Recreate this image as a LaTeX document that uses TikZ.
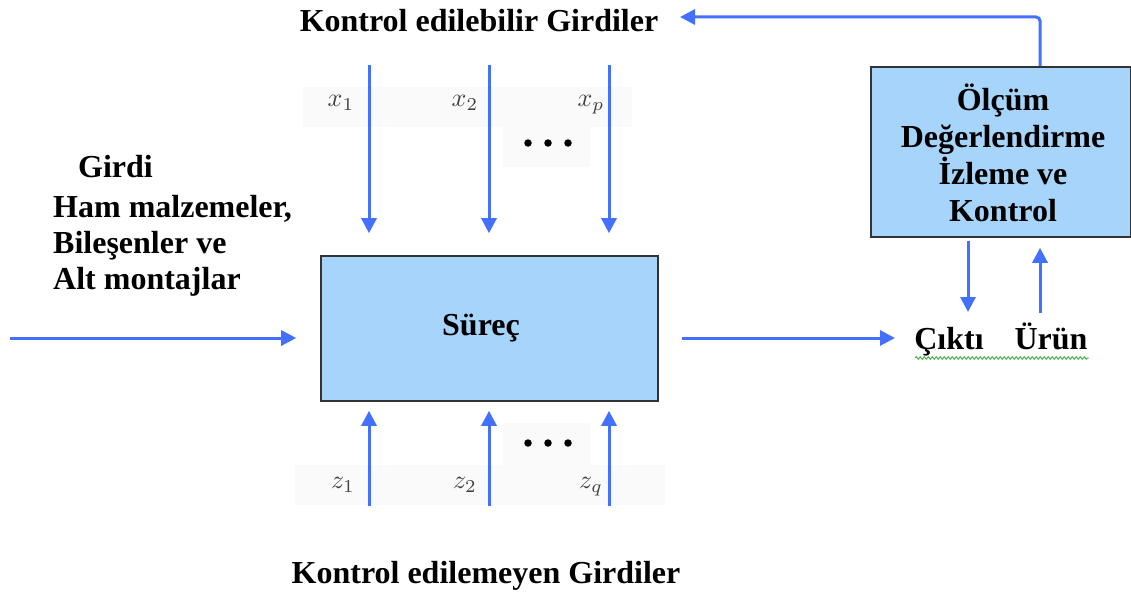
\documentclass[tikz,border=0pt]{standalone}
\usepackage{graphicx}
\usepackage{fontspec}
\setmainfont{Liberation Serif}
\usetikzlibrary{arrows.meta,decorations.pathmorphing}
\definecolor{arrblue}{RGB}{68,112,255}
\definecolor{boxblue}{RGB}{166,212,250}
\definecolor{faint}{RGB}{250,250,250}
\definecolor{squig}{RGB}{60,170,60}
\newcommand{\bigmath}[1]{\scalebox{2.6}{$#1$}}
\tikzset{
  arr/.style={draw=arrblue, line width=3pt, -{Triangle[width=15pt,length=15pt]}},
  lbl/.style={font=\fontsize{32}{37}\selectfont\bfseries, inner sep=0pt, anchor=base},
  lblw/.style={lbl, anchor=base west},
  bluebox/.style={draw=black!80, line width=1.6pt, fill=boxblue, inner sep=0pt},
  mlbl/.style={text=black!75, inner sep=0pt},
  band/.style={fill=faint, draw=none},
  dot/.style={fill=black, draw=none, circle, minimum size=7.5pt, inner sep=0pt}
}
\begin{document}
\begin{tikzpicture}[x=1pt,y=-1pt]
\useasboundingbox (0,0) rectangle (1131,591);
% faint background bands behind symbol labels
\fill[band] (303,87) rectangle (632,127);
\fill[band] (503,127) rectangle (590,167);
\fill[band] (295,465) rectangle (665,505);
\fill[band] (503,423) rectangle (590,465);
% boxes
\node[bluebox, minimum width=337pt, minimum height=145pt] (proc) at (489.5,328.5) {};
\node[lbl] (proctext) at (481,335) {Süreç};
\node[bluebox, minimum width=260pt, minimum height=170pt] (olc) at (1001,152) {};
\node[lbl, align=center, anchor=center] (olctext) at (1003,153) {Ölçüm\\Değerlendirme\\İzleme ve\\Kontrol};
% labels
\node[lbl] (top) at (479,32) {Kontrol edilebilir Girdiler};
\node[lbl] (bot) at (486,583) {Kontrol edilemeyen Girdiler};
\node[lblw] (g1) at (78,177) {Girdi};
\node[lblw] (g2) at (53,217) {Ham malzemeler,};
\node[lblw] (g3) at (53,253) {Bileşenler ve};
\node[lblw] (g4) at (53,289) {Alt montajlar};
\node[lbl] (cikti) at (949,349) {Çıktı};
\node[lbl] (urun) at (1051,349) {Ürün};
% math labels
\node[mlbl] (x1) at (341,103) {\bigmath{x_1}};
\node[mlbl] (x2) at (465,103) {\bigmath{x_2}};
\node[mlbl] (xp) at (591,105) {\bigmath{x_p}};
\node[mlbl] (z1) at (343,485) {\bigmath{z_1}};
\node[mlbl] (z2) at (465,485) {\bigmath{z_2}};
\node[mlbl] (zq) at (591,487) {\bigmath{z_q}};
% dots
\node[dot] (d1) at (528,143) {};
\node[dot] (d2) at (548,143) {};
\node[dot] (d3) at (568,143) {};
\node[dot] (e1) at (528,443) {};
\node[dot] (e2) at (548,443) {};
\node[dot] (e3) at (568,443) {};
% coordinates
\coordinate (xs1) at (369,65);
\coordinate (xs2) at (489,65);
\coordinate (xs3) at (609,65);
\coordinate (zs1) at (369,506);
\coordinate (zs2) at (489,506);
\coordinate (zs3) at (609,506);
\coordinate (inS) at (10,338);
\coordinate (outE) at (895,338);
\coordinate (fbTop) at (1040,17);
\coordinate (fbEnd) at (680,17);
\coordinate (olcDown) at (968,312);
\coordinate (olcUp) at (1040,313);
% input arrows from top
\draw[arr, shorten >=22pt] (xs1) -- (xs1 |- proc.north);
\draw[arr, shorten >=22pt] (xs2) -- (xs2 |- proc.north);
\draw[arr, shorten >=22pt] (xs3) -- (xs3 |- proc.north);
% input arrows from bottom
\draw[arr, shorten >=9pt] (zs1) -- (zs1 |- proc.south);
\draw[arr, shorten >=9pt] (zs2) -- (zs2 |- proc.south);
\draw[arr, shorten >=9pt] (zs3) -- (zs3 |- proc.south);
% main input / output
\draw[arr, shorten >=24pt] (inS) -- (inS -| proc.west);
\draw[arr, shorten <=23pt] (outE -| proc.east) -- (outE);
% measurement loop
\draw[arr, shorten <=3pt] (olcDown |- olc.south) -- (olcDown);
\draw[arr, shorten >=10pt] (olcUp) -- (olcUp |- olc.south);
\draw[arr, rounded corners=4pt] (fbTop |- olc.north) -- (fbTop) -- (fbEnd);
% spelling squiggle
\draw[squig, line width=0.9pt, decorate, decoration={snake, amplitude=1.3pt, segment length=4pt}] (915,358) -- (1089,358);
\end{tikzpicture}
\end{document}
